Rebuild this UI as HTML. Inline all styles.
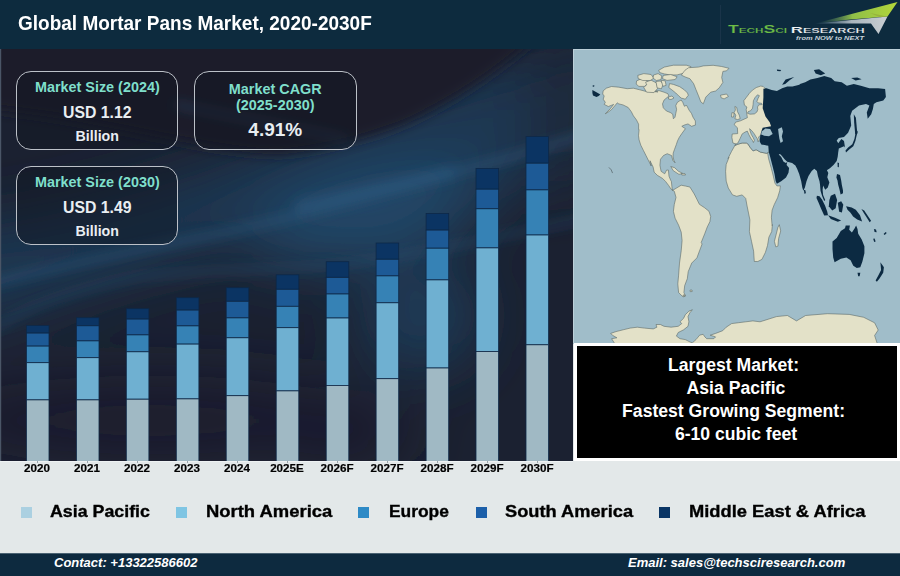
<!DOCTYPE html>
<html><head><meta charset="utf-8">
<style>
*{margin:0;padding:0;box-sizing:border-box}
html,body{width:900px;height:576px;overflow:hidden;background:#e3e8e9}
body{position:relative;font-family:"Liberation Sans",sans-serif;font-weight:bold}
.abs{position:absolute}
#hdr{position:absolute;left:0;top:0;width:900px;height:48.5px;background:#0d2b3e}
#title{position:absolute;left:18px;top:11.5px;font-size:19px;transform:scaleY(1.06);transform-origin:0 0;color:#fff;white-space:nowrap;letter-spacing:0px}
#chart{position:absolute;left:0;top:48.5px;width:573px;height:412.5px;overflow:hidden}
.box{position:absolute;border:1.8px solid #bcc1c8;border-radius:15px;background:rgba(18,22,34,0.45);text-align:center}
.t1{color:#7fdfcb;font-size:14.4px;line-height:16px;white-space:nowrap}
.t2{color:#e9eef2;font-size:15.8px;white-space:nowrap}
.t3{color:#e9eef2;font-size:14.2px;white-space:nowrap}
#map{position:absolute;left:573px;top:48.5px;width:327px;height:295px;background:#a3bfcc;overflow:hidden}
#bbox{position:absolute;left:574px;top:343px;width:326px;height:118px;background:#000;border:3px solid #fff;color:#fff;text-align:center;font-size:17.6px;line-height:23.2px;padding-top:7.6px;padding-right:2px}
.xl{position:absolute;top:461px;width:80px;text-align:center;font-size:11px;line-height:14px;color:#000;transform:scaleX(1.06);-webkit-text-stroke:0.2px #000}
.lg{position:absolute;top:507px;width:11px;height:11px}
.lt{position:absolute;top:501.8px;font-size:17px;line-height:20px;color:#000;white-space:nowrap;transform-origin:0 0;-webkit-text-stroke:0.35px #000}
#ftr{position:absolute;left:0;top:552.5px;width:900px;height:23.5px;background:#0d2a3f;border-top:1px solid #4a6272}
.ft{position:absolute;top:555px;font-size:13px;font-style:italic;color:#fff;white-space:nowrap}
</style></head><body>
<div id="hdr"></div>
<div id="title">Global Mortar Pans Market, 2020-2030F</div>
<svg width="900" height="48" style="position:absolute;left:0;top:0">
<defs>
<linearGradient id="gGreen" x1="816" y1="0" x2="897" y2="0" gradientUnits="userSpaceOnUse"><stop offset="0" stop-color="#3f6a6a" stop-opacity="0"/><stop offset="0.45" stop-color="#8fbf48"/><stop offset="1" stop-color="#b2d63a"/></linearGradient>
<linearGradient id="gGray" x1="816" y1="0" x2="887" y2="0" gradientUnits="userSpaceOnUse"><stop offset="0" stop-color="#5f7f92" stop-opacity="0.3"/><stop offset="0.5" stop-color="#a9b5bd"/><stop offset="1" stop-color="#c9ced2"/></linearGradient>
</defs>
<line x1="720.5" y1="5" x2="720.5" y2="44" stroke="#1a3449" stroke-width="1"/>
<path d="M815 23.5 L897.5 2 L887.5 16.5 L850 19.5 Z" fill="url(#gGreen)"/>
<path d="M815 23.5 L887.5 16.5 L878.5 34 L871 23.5 Z" fill="url(#gGray)"/>
<path d="M870 13 L887 16.5 L880 17.2 Z" fill="#93ad3a" opacity="0.8"/>
<text x="728" y="33" textLength="59" lengthAdjust="spacingAndGlyphs" font-family="Liberation Sans" font-weight="bold" font-size="10.8" fill="#6dbd46" stroke="#0f2a3e" stroke-width="0.15">T<tspan font-size="7.2">ECH</tspan>S<tspan font-size="7.2">CI</tspan></text>
<text x="790.7" y="32.7" textLength="74" lengthAdjust="spacingAndGlyphs" font-family="Liberation Sans" font-weight="bold" font-size="9.6" fill="#f2f5f7" stroke="#0f2a3e" stroke-width="0.15">R<tspan font-size="7.2">ESEARCH</tspan></text>
<text x="796" y="39.8" textLength="68" lengthAdjust="spacingAndGlyphs" font-family="Liberation Sans" font-style="italic" font-size="6" fill="#c9d4dc">from NOW to NEXT</text>
</svg>

<div id="chart">
<svg width="573" height="413" viewBox="0 48.5 573 413" style="position:absolute;left:0;top:0">
<defs>
<filter id="bl1" x="-50%" y="-50%" width="200%" height="200%"><feGaussianBlur stdDeviation="30"/></filter>
<filter id="bl2" x="-50%" y="-50%" width="200%" height="200%"><feGaussianBlur stdDeviation="6"/></filter>
<filter id="bl3" x="-50%" y="-50%" width="200%" height="200%"><feGaussianBlur stdDeviation="6"/></filter>
</defs>
<rect x="0" y="48" width="573" height="414" fill="#1b2131"/>
<g filter="url(#bl1)">
<path d="M -60 232 C 100 215 215 170 358 113 C 450 80 520 55 640 30 L 640 150 C 560 170 480 200 401 213 C 300 235 180 256 93 285 C 40 300 0 320 -60 330 Z" fill="#1e3753"/>
<ellipse cx="370" cy="215" rx="120" ry="42" fill="#22486a" transform="rotate(-12 370 215)"/>
<ellipse cx="420" cy="315" rx="60" ry="55" fill="#1e3a56"/>
<ellipse cx="150" cy="420" rx="230" ry="45" fill="#1a1f2e"/>
<ellipse cx="575" cy="110" rx="45" ry="75" fill="#1d2738"/>
<ellipse cx="340" cy="430" rx="70" ry="40" fill="#1a1f2d"/>
</g>
<g filter="url(#bl3)">
<path d="M -20 30 L 545 30 C 510 62 462 98 405 124 C 365 140 320 150 280 154 C 200 152 100 118 -20 108 Z" fill="#1c1d2b"/>
</g>
<g filter="url(#bl2)" fill="none" stroke-linecap="round">
<path d="M -10 283 C 60 265 150 248 233 230 C 300 216 387 190 480 165 C 520 155 550 145 600 130" stroke="#2b5b80" stroke-width="7" opacity="0.6"/>
<path d="M -5 328 C 30 303 83 287 133 277 C 170 272 230 270 300 267 C 380 262 460 245 600 215" stroke="#27557a" stroke-width="5" opacity="0.5"/>
<path d="M 175 104 C 215 112 280 125 345 138" stroke="#2c5c80" stroke-width="4" opacity="0.6"/>
<path d="M 300 205 C 340 197 390 186 450 172" stroke="#2d6088" stroke-width="12" opacity="0.45"/>
</g>
<rect x="26.4" y="325.0" width="22.6" height="7.6" fill="#0b3463" stroke="#0e2848" stroke-width="0.8"/>
<rect x="26.4" y="332.6" width="22.6" height="13.0" fill="#1d5a96" stroke="#0e2848" stroke-width="0.8"/>
<rect x="26.4" y="345.6" width="22.6" height="16.6" fill="#3682b5" stroke="#0e2848" stroke-width="0.8"/>
<rect x="26.4" y="362.2" width="22.6" height="37.2" fill="#6fb0d1" stroke="#0e2848" stroke-width="0.8"/>
<rect x="26.4" y="399.4" width="22.6" height="61.6" fill="#a0b9c4" stroke="#0e2848" stroke-width="0.8"/>
<rect x="76.4" y="317.2" width="22.6" height="8.1" fill="#0b3463" stroke="#0e2848" stroke-width="0.8"/>
<rect x="76.4" y="325.3" width="22.6" height="15.1" fill="#1d5a96" stroke="#0e2848" stroke-width="0.8"/>
<rect x="76.4" y="340.4" width="22.6" height="16.8" fill="#3682b5" stroke="#0e2848" stroke-width="0.8"/>
<rect x="76.4" y="357.2" width="22.6" height="42.2" fill="#6fb0d1" stroke="#0e2848" stroke-width="0.8"/>
<rect x="76.4" y="399.4" width="22.6" height="61.6" fill="#a0b9c4" stroke="#0e2848" stroke-width="0.8"/>
<rect x="126.3" y="308.2" width="22.6" height="10.4" fill="#0b3463" stroke="#0e2848" stroke-width="0.8"/>
<rect x="126.3" y="318.6" width="22.6" height="15.8" fill="#1d5a96" stroke="#0e2848" stroke-width="0.8"/>
<rect x="126.3" y="334.4" width="22.6" height="16.9" fill="#3682b5" stroke="#0e2848" stroke-width="0.8"/>
<rect x="126.3" y="351.3" width="22.6" height="47.4" fill="#6fb0d1" stroke="#0e2848" stroke-width="0.8"/>
<rect x="126.3" y="398.7" width="22.6" height="62.3" fill="#a0b9c4" stroke="#0e2848" stroke-width="0.8"/>
<rect x="176.3" y="297.2" width="22.6" height="12.4" fill="#0b3463" stroke="#0e2848" stroke-width="0.8"/>
<rect x="176.3" y="309.6" width="22.6" height="15.8" fill="#1d5a96" stroke="#0e2848" stroke-width="0.8"/>
<rect x="176.3" y="325.4" width="22.6" height="18.2" fill="#3682b5" stroke="#0e2848" stroke-width="0.8"/>
<rect x="176.3" y="343.6" width="22.6" height="54.8" fill="#6fb0d1" stroke="#0e2848" stroke-width="0.8"/>
<rect x="176.3" y="398.4" width="22.6" height="62.6" fill="#a0b9c4" stroke="#0e2848" stroke-width="0.8"/>
<rect x="226.2" y="287.2" width="22.6" height="13.6" fill="#0b3463" stroke="#0e2848" stroke-width="0.8"/>
<rect x="226.2" y="300.8" width="22.6" height="16.6" fill="#1d5a96" stroke="#0e2848" stroke-width="0.8"/>
<rect x="226.2" y="317.4" width="22.6" height="19.9" fill="#3682b5" stroke="#0e2848" stroke-width="0.8"/>
<rect x="226.2" y="337.3" width="22.6" height="57.9" fill="#6fb0d1" stroke="#0e2848" stroke-width="0.8"/>
<rect x="226.2" y="395.2" width="22.6" height="65.8" fill="#a0b9c4" stroke="#0e2848" stroke-width="0.8"/>
<rect x="276.2" y="274.3" width="22.6" height="14.5" fill="#0b3463" stroke="#0e2848" stroke-width="0.8"/>
<rect x="276.2" y="288.8" width="22.6" height="17.0" fill="#1d5a96" stroke="#0e2848" stroke-width="0.8"/>
<rect x="276.2" y="305.8" width="22.6" height="21.4" fill="#3682b5" stroke="#0e2848" stroke-width="0.8"/>
<rect x="276.2" y="327.2" width="22.6" height="63.2" fill="#6fb0d1" stroke="#0e2848" stroke-width="0.8"/>
<rect x="276.2" y="390.4" width="22.6" height="70.6" fill="#a0b9c4" stroke="#0e2848" stroke-width="0.8"/>
<rect x="326.2" y="261.2" width="22.6" height="15.6" fill="#0b3463" stroke="#0e2848" stroke-width="0.8"/>
<rect x="326.2" y="276.9" width="22.6" height="16.6" fill="#1d5a96" stroke="#0e2848" stroke-width="0.8"/>
<rect x="326.2" y="293.5" width="22.6" height="24.0" fill="#3682b5" stroke="#0e2848" stroke-width="0.8"/>
<rect x="326.2" y="317.5" width="22.6" height="67.4" fill="#6fb0d1" stroke="#0e2848" stroke-width="0.8"/>
<rect x="326.2" y="384.9" width="22.6" height="76.1" fill="#a0b9c4" stroke="#0e2848" stroke-width="0.8"/>
<rect x="376.1" y="242.5" width="22.6" height="16.2" fill="#0b3463" stroke="#0e2848" stroke-width="0.8"/>
<rect x="376.1" y="258.8" width="22.6" height="16.6" fill="#1d5a96" stroke="#0e2848" stroke-width="0.8"/>
<rect x="376.1" y="275.4" width="22.6" height="26.9" fill="#3682b5" stroke="#0e2848" stroke-width="0.8"/>
<rect x="376.1" y="302.3" width="22.6" height="75.9" fill="#6fb0d1" stroke="#0e2848" stroke-width="0.8"/>
<rect x="376.1" y="378.2" width="22.6" height="82.8" fill="#a0b9c4" stroke="#0e2848" stroke-width="0.8"/>
<rect x="426.1" y="212.9" width="22.6" height="16.7" fill="#0b3463" stroke="#0e2848" stroke-width="0.8"/>
<rect x="426.1" y="229.6" width="22.6" height="18.1" fill="#1d5a96" stroke="#0e2848" stroke-width="0.8"/>
<rect x="426.1" y="247.7" width="22.6" height="31.7" fill="#3682b5" stroke="#0e2848" stroke-width="0.8"/>
<rect x="426.1" y="279.4" width="22.6" height="88.1" fill="#6fb0d1" stroke="#0e2848" stroke-width="0.8"/>
<rect x="426.1" y="367.5" width="22.6" height="93.5" fill="#a0b9c4" stroke="#0e2848" stroke-width="0.8"/>
<rect x="476.0" y="167.9" width="22.6" height="20.8" fill="#0b3463" stroke="#0e2848" stroke-width="0.8"/>
<rect x="476.0" y="188.7" width="22.6" height="19.6" fill="#1d5a96" stroke="#0e2848" stroke-width="0.8"/>
<rect x="476.0" y="208.3" width="22.6" height="39.1" fill="#3682b5" stroke="#0e2848" stroke-width="0.8"/>
<rect x="476.0" y="247.4" width="22.6" height="103.6" fill="#6fb0d1" stroke="#0e2848" stroke-width="0.8"/>
<rect x="476.0" y="351.0" width="22.6" height="110.0" fill="#a0b9c4" stroke="#0e2848" stroke-width="0.8"/>
<rect x="526.0" y="136.1" width="22.6" height="26.6" fill="#0b3463" stroke="#0e2848" stroke-width="0.8"/>
<rect x="526.0" y="162.7" width="22.6" height="26.7" fill="#1d5a96" stroke="#0e2848" stroke-width="0.8"/>
<rect x="526.0" y="189.4" width="22.6" height="45.1" fill="#3682b5" stroke="#0e2848" stroke-width="0.8"/>
<rect x="526.0" y="234.5" width="22.6" height="109.8" fill="#6fb0d1" stroke="#0e2848" stroke-width="0.8"/>
<rect x="526.0" y="344.3" width="22.6" height="116.7" fill="#a0b9c4" stroke="#0e2848" stroke-width="0.8"/>
<rect x="0" y="48" width="1.2" height="414" fill="#4a5566"/>
</svg>
<div class="box" style="left:16.3px;top:22.5px;width:162px;height:79px">
 <div class="t1" style="margin-top:6.9px">Market Size (2024)</div>
 <div class="t2" style="margin-top:9.1px">USD 1.12</div>
 <div class="t3" style="margin-top:5.6px">Billion</div>
</div>
<div class="box" style="left:194px;top:22.5px;width:162.5px;height:79px">
 <div class="t1" style="margin-top:8.5px">Market CAGR</div>
 <div class="t1">(2025-2030)</div>
 <div class="t2" style="margin-top:6px;font-size:19px">4.91%</div>
</div>
<div class="box" style="left:16.3px;top:117.5px;width:162px;height:79px">
 <div class="t1" style="margin-top:6.9px">Market Size (2030)</div>
 <div class="t2" style="margin-top:9.1px">USD 1.49</div>
 <div class="t3" style="margin-top:5.6px">Billion</div>
</div>
</div>

<div id="map"><svg width="327" height="295" viewBox="573 48.5 327 295" style="position:absolute;left:0;top:0">
<rect x="573" y="48.5" width="327" height="295" fill="#a0bdc9"/>
<g fill="#e3e1c8" stroke="#55625f" stroke-width="0.55" stroke-linejoin="round">
<path d="M605.3 101.8 L603.2 98.7 L604.2 95.5 L602.7 93.5 L603.2 90.3 L606.3 87.7 L611.5 86.0 L618.8 86.7 L627.2 88.2 L633.4 87.7 L639.7 89.3 L645.9 90.9 L658.0 91.4 L650.0 89.4 L654.7 90.2 L659.4 90.2 L664.1 91.7 L668.0 93.3 L668.8 95.6 L664.1 99.5 L662.5 103.4 L663.3 107.3 L666.4 110.5 L670.3 112.0 L672.7 113.6 L673.4 118.3 L675.0 116.7 L675.8 112.8 L676.6 108.9 L675.8 105.0 L677.3 101.9 L679.7 100.3 L681.2 99.5 L682.8 101.9 L684.4 105.8 L685.9 105.0 L686.7 105.0 L689.1 109.7 L691.4 112.8 L693.0 116.7 L695.4 120.5 L695.4 124.6 L691.5 125.8 L688.0 123.4 L684.2 124.6 L681.8 125.8 L685.4 128.2 L681.8 133.1 L679.3 136.8 L677.5 140.4 L676.3 144.1 L674.5 148.9 L673.2 152.6 L673.0 156.2 L673.9 159.9 L675.1 162.3 L672.9 160.0 L671.5 155.0 L667.2 153.2 L663.5 155.0 L660.5 158.7 L659.9 164.7 L661.1 170.8 L664.7 173.3 L666.6 169.6 L668.4 169.6 L669.0 175.7 L670.8 180.0 L671.4 181.0 L671.9 186.2 L672.4 190.0 L676.9 187.3 L681.2 184.7 L685.6 185.6 L689.9 186.5 L694.2 193.4 L696.8 198.6 L699.4 203.8 L704.7 207.3 L709.0 210.8 L710.7 216.0 L709.9 221.2 L707.3 226.4 L704.7 233.3 L701.2 242.0 L702.1 243.5 L699.5 250.4 L696.9 257.4 L691.7 262.6 L688.2 271.2 L687.3 278.2 L684.7 285.1 L683.9 292.1 L685.6 295.6 L683.0 296.4 L678.6 292.1 L677.8 283.4 L678.6 274.7 L679.5 262.6 L681.2 250.4 L682.1 240.0 L681.2 231.6 L678.6 224.7 L675.1 217.7 L673.4 210.8 L674.3 203.8 L676.0 196.9 L674.3 190.8 L670.8 188.3 L668.8 185.2 L665.6 181.0 L662.5 177.9 L657.3 174.8 L654.2 171.7 L653.1 166.5 L650.0 160.2 L651.2 165.5 L648.6 160.3 L646.0 155.1 L643.4 149.9 L640.8 144.7 L639.1 139.4 L638.5 135.1 L639.1 129.0 L638.6 128.9 L638.6 123.7 L636.5 119.5 L633.4 115.3 L631.3 111.2 L628.2 107.0 L623.0 104.4 L618.8 103.4 L617.3 102.3 L614.7 105.4 L611.5 109.1 L606.3 112.9 L605.3 113.2 L610.5 108.0 L613.6 103.9 L608.4 106.0 L604.2 103.9 Z"/>
<path d="M670.8 166.0 L674.6 167.2 L678.5 170.8 L682.6 172.8 L679.0 173.9 L673.3 170.2 Z"/>
<path d="M681.5 173.0 L685.0 173.2 L685.5 174.5 L681.8 174.5 Z"/>
<path d="M658.7 69.8 L664.3 66.6 L673.4 64.7 L686.3 64.7 L690.9 66.1 L688.1 69.8 L684.4 72.5 L677.1 74.4 L669.8 74.4 L664.3 73.4 L659.7 72.1 Z"/>
<path d="M669.5 83.1 L673.4 83.9 L679.7 86.2 L684.4 89.4 L687.5 92.5 L688.3 94.8 L685.2 98.8 L684.4 98.4 L681.2 97.6 L678.9 95.6 L675.8 92.5 L671.9 89.4 L668.8 87.0 Z"/>
<path d="M636.6 80.4 L641.7 78.1 L646.7 79.4 L647.6 83.1 L644.4 85.9 L638.9 85.9 L636.2 83.6 Z"/>
<path d="M645.6 81.6 L651.1 79.7 L656.6 82.5 L657.6 88.0 L653.9 92.1 L646.6 91.7 L643.8 87.1 L646.6 84.3 Z"/>
<path d="M637.8 74.9 L643.8 73.1 L651.1 74.0 L653.8 77.7 L650.2 80.0 L642.8 80.0 L638.2 78.1 Z"/>
<path d="M653.5 74.5 L658.1 73.1 L661.8 75.4 L660.9 79.1 L656.3 80.0 L653.1 77.7 Z"/>
<path d="M655.9 81.0 L660.5 80.5 L663.2 83.7 L661.4 88.3 L657.2 87.4 Z"/>
<path d="M661.1 79.8 L665.2 80.3 L666.1 84.9 L662.9 85.8 Z"/>
<path d="M663.3 74.9 L670.7 74.0 L677.1 76.3 L675.2 79.0 L667.0 79.9 L662.4 78.1 Z"/>
<path d="M668.5 96.5 L672.0 95.5 L674.0 97.5 L671.0 99.0 L668.5 98.5 Z"/>
<path d="M681.3 74.6 L685.0 69.7 L688.7 67.2 L698.5 66.6 L703.3 65.4 L713.1 64.8 L721.7 66.0 L729.0 67.8 L726.6 70.3 L722.9 70.9 L721.7 77.0 L722.9 81.9 L719.2 87.4 L715.6 90.5 L710.7 91.7 L705.8 96.6 L703.3 103.3 L700.9 101.5 L698.5 95.3 L696.0 89.2 L693.6 83.1 L689.9 78.2 L685.0 76.4 Z"/>
<path d="M720.5 94.7 L726.6 93.5 L728.4 96.0 L724.1 98.4 L721.1 97.2 Z"/>
<path d="M744.4 104.6 L743.8 100.2 L746.2 97.1 L749.4 92.8 L752.5 89.6 L756.2 87.1 L760.6 85.6 L763.1 85.9 L765.0 87.8 L769.7 91.1 L773.8 107.8 L773.8 145.3 L737.7 145.3 L736.6 143.6 L732.9 142.5 L731.9 136.9 L732.2 133.5 L737.7 133.1 L737.4 127.2 L734.2 124.2 L735.6 121.7 L740.5 120.3 L747.4 117.2 L746.2 109.0 L746.9 106.5 Z"/>
<path d="M734.9 106.0 L736.7 106.9 L737.5 111.2 L739.3 114.7 L740.2 118.2 L737.5 119.1 L734.9 118.2 L735.8 114.7 L734.1 112.1 L735.4 109.5 Z"/>
<path d="M731.9 112.1 L734.1 112.6 L733.6 116.5 L731.5 116.5 Z"/>
<path d="M734.9 144.9 L737.9 143.7 L742.2 142.5 L746.4 142.5 L748.2 143.7 L750.0 146.7 L753.1 150.4 L756.1 149.2 L760.4 151.6 L766.5 152.8 L768.9 151.6 L767.2 150.0 L768.6 158.3 L771.4 168.1 L773.5 176.4 L774.9 182.6 L776.9 185.4 L780.4 185.4 L779.7 190.3 L777.6 197.2 L774.2 204.2 L772.1 209.7 L771.4 216.7 L772.1 225.0 L772.4 224.2 L771.7 231.1 L768.9 236.7 L767.5 245.0 L765.4 251.9 L761.9 258.9 L757.8 261.0 L754.3 261.0 L753.6 250.6 L751.5 240.8 L749.4 231.1 L749.9 219.4 L748.5 212.5 L747.1 205.6 L745.7 197.9 L742.2 194.4 L736.7 195.8 L732.5 194.4 L728.3 187.5 L726.2 180.6 L725.6 170.8 L726.2 163.9 L729.0 156.9 L728.0 157.9 L731.5 151.0 Z"/>
<path d="M779.3 224.2 L780.7 230.4 L778.6 238.1 L777.9 245.7 L775.8 246.4 L774.4 240.8 L776.5 232.5 L777.9 226.9 Z"/>
<path d="M614.2 344.4 L614.2 342.3 L611.6 338.2 L616.9 337.3 L612.4 334.7 L610.7 332.9 L616.0 331.1 L623.1 329.3 L630.2 327.6 L637.3 326.7 L644.4 327.6 L653.3 328.4 L656.9 326.7 L656.0 324.0 L660.4 324.0 L664.0 325.8 L671.1 326.7 L678.2 325.8 L681.8 323.1 L680.0 321.3 L683.6 317.8 L685.3 314.2 L688.9 310.7 L692.4 309.2 L689.8 312.4 L688.0 316.0 L688.9 321.3 L688.0 325.8 L683.6 329.3 L678.2 332.0 L676.4 335.6 L680.0 338.2 L685.3 339.1 L690.7 341.8 L692.4 342.3 L696.0 339.1 L699.6 334.7 L703.1 333.8 L704.9 336.4 L706.7 338.2 L713.8 338.2 L715.6 336.4 L710.2 334.7 L715.6 332.9 L722.7 330.2 L726.2 326.7 L731.6 323.1 L738.7 322.2 L745.8 321.3 L752.9 320.4 L760.0 321.3 L776.5 316.1 L787.4 315.0 L796.5 320.4 L805.6 315.0 L827.4 313.2 L849.2 313.9 L863.7 316.8 L874.6 322.3 L878.2 329.5 L874.6 335.0 L878.2 345.9 Z"/>
<path d="M690.0 289.6 L692.0 289.5 L692.2 291.0 L690.2 291.2 Z"/>
<path d="M683.0 294.6 L685.0 294.4 L684.6 295.6 L683.2 295.6 Z"/>
</g>
<g fill="#a0bdc9" stroke="#55625f" stroke-width="0.55" stroke-linejoin="round">
<path d="M757.5 94.3 L755.0 97.1 L753.4 100.2 L753.1 104.0 L752.5 107.8 L750.6 110.2 L748.1 111.2 L747.5 112.8 L750.0 113.7 L754.4 113.4 L756.9 111.5 L757.8 109.0 L757.5 106.5 L758.8 104.3 L762.2 104.1 L761.6 102.8 L758.1 102.4 L756.9 100.9 L758.1 97.8 L759.4 95.2 Z"/>
<path d="M734.9 144.3 L737.9 142.5 L740.0 138.2 L742.2 133.4 L745.2 131.5 L747.3 130.6 L748.8 134.0 L750.7 137.6 L752.5 140.0 L753.4 142.0 L754.4 139.7 L753.1 137.0 L751.3 134.0 L750.0 130.3 L749.6 128.2 L751.9 130.3 L754.3 133.4 L756.1 136.4 L757.3 138.2 L758.1 141.3 L759.2 139.4 L758.6 136.4 L761.0 134.6 L762.2 135.8 L762.8 143.1 L766.5 144.3 L768.9 143.7 L769.2 146.1 L768.9 151.6 L766.5 152.8 L760.4 151.6 L756.1 149.2 L753.1 150.4 L750.0 146.7 L748.2 143.7 L746.4 142.5 L742.2 142.5 L737.9 143.7 L734.9 145.0 Z"/>
</g>
<g fill="#0c2a42">
<path d="M763.4 88.3 L763.4 96.7 L762.7 107.8 L765.5 116.1 L769.7 121.7 L771.1 125.8 L762.7 127.2 L761.1 131.4 L760.2 135.6 L759.7 141.1 L761.3 143.9 L768.3 145.3 L769.0 152.2 L770.2 156.5 L772.7 166.2 L774.5 173.5 L775.7 180.8 L776.9 183.2 L781.2 180.8 L786.0 177.1 L788.5 172.3 L789.1 167.4 L786.6 164.4 L787.3 161.3 L792.1 162.5 L797.0 166.2 L795.0 164.2 L797.1 168.3 L799.2 173.5 L801.2 180.8 L802.3 187.1 L803.3 190.2 L804.9 187.1 L806.5 180.8 L808.5 175.6 L811.7 170.4 L814.3 168.3 L816.9 170.4 L817.9 175.6 L819.5 180.8 L820.0 184.0 L820.5 190.2 L822.1 195.4 L824.2 200.6 L825.2 199.6 L823.1 194.4 L822.6 189.2 L823.1 185.0 L825.2 189.2 L827.8 187.1 L829.4 181.9 L827.3 176.7 L828.3 172.5 L826.2 168.3 L826.8 169.8 L829.9 167.7 L833.5 164.6 L836.7 160.4 L837.7 156.2 L838.2 152.1 L838.8 147.9 L844.0 145.8 L845.0 146.9 L844.0 140.6 L841.4 138.5 L838.2 142.7 L836.7 140.1 L838.8 137.5 L844.0 136.5 L848.1 132.3 L851.2 125.0 L850.3 115.6 L852.1 110.3 L859.0 105.1 L866.0 103.4 L869.4 105.1 L866.8 112.1 L867.7 118.2 L871.2 113.8 L872.9 108.6 L873.8 103.4 L876.4 101.7 L883.3 99.9 L885.9 96.5 L885.1 88.6 L878.1 87.8 L869.4 87.8 L860.8 85.2 L853.8 83.4 L846.9 85.2 L841.7 81.7 L834.7 80.8 L831.2 77.4 L824.3 75.6 L817.4 77.4 L810.4 79.1 L805.2 81.7 L800.0 83.4 L799.4 84.3 L792.5 86.0 L787.3 86.0 L782.1 87.8 L776.9 90.4 L771.7 89.5 L766.5 87.8 Z"/>
<path d="M592.4 89.6 L595.1 91.0 L598.6 93.0 L600.3 94.1 L598.6 95.5 L596.5 96.5 L593.0 95.1 L592.4 92.4 Z"/>
<path d="M592.8 84.8 L594.5 85.0 L594.0 86.2 L592.6 86.0 Z"/>
<path d="M856.5 129.2 L855.4 133.3 L854.4 138.5 L852.3 143.8 L848.1 146.9 L845.5 150.0 L846.0 152.1 L849.2 149.0 L853.3 145.8 L855.4 140.6 L856.5 135.4 L857.7 131.2 Z"/>
<path d="M853.8 113.8 L855.9 117.3 L857.3 132.9 L855.2 133.8 L854.2 122.5 Z"/>
<path d="M837.5 162.0 L839.0 162.5 L838.8 166.7 L837.7 166.5 Z"/>
<path d="M837.0 173.4 L840.0 174.6 L841.2 180.0 L841.8 184.3 L843.0 190.0 L843.0 192.8 L840.6 194.0 L839.5 189.0 L838.2 184.3 L837.5 180.0 L836.4 177.0 Z"/>
<path d="M803.9 189.2 L805.4 189.7 L805.9 192.8 L804.4 193.3 Z"/>
<path d="M816.9 195.3 L819.5 195.8 L822.0 199.0 L825.0 205.0 L827.2 211.0 L828.0 214.7 L824.2 215.0 L821.0 208.0 L818.5 202.0 L816.5 197.5 Z"/>
<path d="M828.1 214.7 L835.0 217.2 L841.2 220.0 L837.8 221.2 L830.8 218.5 Z"/>
<path d="M830.8 195.3 L835.0 193.2 L837.1 199.4 L835.7 207.8 L832.2 209.9 L828.8 205.7 L829.4 199.4 Z"/>
<path d="M837.8 202.2 L841.2 200.8 L843.3 204.3 L841.9 211.9 L839.2 211.2 L838.5 207.1 Z"/>
<path d="M846.1 205.7 L851.7 207.1 L855.8 209.2 L860.0 214.7 L862.1 221.0 L857.2 218.9 L853.1 216.1 L850.3 211.9 L847.5 209.2 Z"/>
<path d="M861.4 208.5 L864.2 209.9 L871.1 220.3 L869.7 221.7 L863.5 211.9 Z"/>
<path d="M873.9 228.6 L876.0 228.9 L876.7 231.7 L874.6 231.4 Z"/>
<path d="M883.6 233.5 L885.7 231.4 L886.7 232.5 L884.7 234.4 Z"/>
<path d="M873.2 238.3 L874.6 238.1 L875.6 241.1 L874.2 241.4 Z"/>
<path d="M832.5 241.0 L836.7 237.5 L840.8 230.6 L845.0 227.8 L845.7 225.0 L849.9 225.0 L849.2 229.2 L851.9 231.9 L854.7 227.8 L856.1 225.0 L857.5 228.5 L858.2 233.3 L861.7 238.9 L864.4 245.8 L864.4 252.8 L862.4 261.1 L860.3 266.7 L856.8 267.4 L853.3 265.3 L850.6 259.7 L846.4 256.9 L840.8 258.3 L834.6 261.8 L833.2 256.9 L832.5 248.6 Z"/>
<path d="M857.5 272.2 L860.3 272.2 L859.6 275.7 L858.2 275.7 Z"/>
<path d="M880.4 261.8 L883.9 266.7 L883.2 272.2 L879.7 277.8 L876.9 281.2 L875.6 279.9 L878.3 275.0 L881.1 269.4 Z"/>
<path d="M813.9 69.5 L819.1 68.7 L825.2 73.0 L820.8 74.8 L815.6 73.0 Z"/>
<path d="M851.2 77.4 L857.3 77.0 L861.6 78.8 L855.6 80.0 Z"/>
<path d="M782.1 84.3 L785.6 79.1 L794.2 76.5 L789.9 79.4 L785.2 83.4 Z"/>
<path d="M776.9 69.0 L781.2 69.5 L780.3 70.8 L777.2 70.4 Z"/>
</g>
<g fill="#a0bdc9">
<path d="M761.7 130.9 L765.4 127.9 L770.2 128.5 L772.7 133.4 L769.0 135.8 L764.2 135.2 L761.1 134.0 Z"/>
<path d="M778.1 128.5 L781.8 126.7 L783.0 130.9 L781.8 135.8 L783.0 140.7 L780.6 142.5 L779.4 138.2 L778.7 133.4 Z"/>
<path d="M778.7 154.0 L781.2 156.5 L783.6 161.3 L786.0 162.5 L787.3 161.3 L784.8 158.9 L781.8 155.2 L780.0 153.4 Z"/>
</g>
<g fill="none" stroke="#5a6b70" stroke-width="0.8" stroke-linecap="round"><path d="M609.2 167.2 L611.2 169.3 L612.4 172.2"/></g>
<path d="M573.5 343 L573.5 49 L900 49" fill="none" stroke="#bcd0d9" stroke-width="1"/>
</svg></div>
<div id="bbox">Largest Market:&nbsp;<br>Asia Pacific<br>Fastest Growing Segment:&nbsp;<br>6-10 cubic feet</div>

<div style="position:absolute;left:0;top:461px;width:573px;height:1.2px;background:#eef2f3"></div>
<div style="position:absolute;left:37.1px;top:461px;width:1.2px;height:2px;background:#9aa4aa"></div>
<div style="position:absolute;left:87.1px;top:461px;width:1.2px;height:2px;background:#9aa4aa"></div>
<div style="position:absolute;left:137.0px;top:461px;width:1.2px;height:2px;background:#9aa4aa"></div>
<div style="position:absolute;left:187.0px;top:461px;width:1.2px;height:2px;background:#9aa4aa"></div>
<div style="position:absolute;left:236.9px;top:461px;width:1.2px;height:2px;background:#9aa4aa"></div>
<div style="position:absolute;left:286.9px;top:461px;width:1.2px;height:2px;background:#9aa4aa"></div>
<div style="position:absolute;left:336.9px;top:461px;width:1.2px;height:2px;background:#9aa4aa"></div>
<div style="position:absolute;left:386.8px;top:461px;width:1.2px;height:2px;background:#9aa4aa"></div>
<div style="position:absolute;left:436.8px;top:461px;width:1.2px;height:2px;background:#9aa4aa"></div>
<div style="position:absolute;left:486.7px;top:461px;width:1.2px;height:2px;background:#9aa4aa"></div>
<div style="position:absolute;left:536.7px;top:461px;width:1.2px;height:2px;background:#9aa4aa"></div>
<div class="xl" style="left:-2.9px">2020</div>
<div class="xl" style="left:47.1px">2021</div>
<div class="xl" style="left:97.0px">2022</div>
<div class="xl" style="left:147.0px">2023</div>
<div class="xl" style="left:196.9px">2024</div>
<div class="xl" style="left:246.9px">2025E</div>
<div class="xl" style="left:296.9px">2026F</div>
<div class="xl" style="left:346.8px">2027F</div>
<div class="xl" style="left:396.8px">2028F</div>
<div class="xl" style="left:446.7px">2029F</div>
<div class="xl" style="left:496.7px">2030F</div>

<div class="lg" style="left:21px;background:#abd0e1"></div>
<div class="lt" style="left:50.2px;transform:scaleX(1.047)">Asia Pacific</div>
<div class="lg" style="left:176px;background:#7fc5e3"></div>
<div class="lt" style="left:206px;transform:scaleX(1.084)">North America</div>
<div class="lg" style="left:358px;background:#2e8ac6"></div>
<div class="lt" style="left:389px;transform:scaleX(1.023)">Europe</div>
<div class="lg" style="left:476px;background:#1c5fa9"></div>
<div class="lt" style="left:504.7px;transform:scaleX(1.073)">South America</div>
<div class="lg" style="left:659px;background:#0a3565"></div>
<div class="lt" style="left:689px;transform:scaleX(1.077)">Middle East &amp; Africa</div>

<div id="ftr"></div>
<div class="ft" style="left:54px">Contact: +13322586602</div>
<div class="ft" style="left:628px">Email: sales@techsciresearch.com</div>
</body></html>
